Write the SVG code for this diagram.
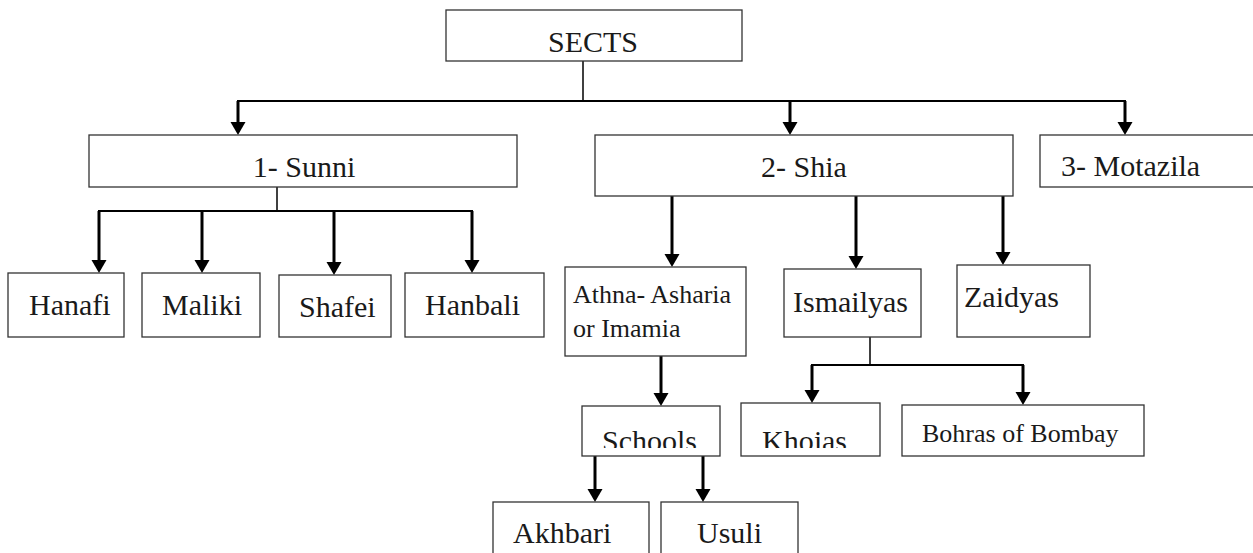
<svg xmlns="http://www.w3.org/2000/svg" width="1253" height="553" viewBox="0 0 1253 553">
<style>
.box{fill:#fff;stroke:#333;stroke-width:1.3}
.t{font-family:"Liberation Serif","DejaVu Serif",serif;font-size:30px;fill:#1a1a1a}
.s{font-size:26px}
.c{text-anchor:middle}
.ln{stroke:#000;stroke-width:2;fill:none}
.thin{stroke:#000;stroke-width:1.5;fill:none}
.ar{stroke:#000;stroke-width:3;fill:none;marker-end:url(#ah)}
</style>
<defs>
<marker id="ah" markerUnits="userSpaceOnUse" markerWidth="16" markerHeight="16" refX="3" refY="7.5" orient="auto">
<path d="M0,0 L13,7.5 L0,15 z" fill="#000"/>
</marker>
<clipPath id="cut"><rect x="0" y="0" width="1253" height="448"/></clipPath>
</defs>
<rect width="1253" height="553" fill="#fff"/>
<g id="connectors">
<line class="thin" x1="583" y1="61" x2="583" y2="101"/>
<line class="ln" x1="237" y1="101" x2="1126" y2="101"/>
<line class="ar" x1="238" y1="101" x2="238" y2="125"/>
<line class="ar" x1="790" y1="101" x2="790" y2="125"/>
<line class="ar" x1="1125" y1="101" x2="1125" y2="125"/>
<line class="thin" x1="277" y1="187" x2="277" y2="211"/>
<line class="ln" x1="98" y1="211" x2="473" y2="211"/>
<line class="ar" x1="99" y1="211" x2="99" y2="263"/>
<line class="ar" x1="202" y1="211" x2="202" y2="263"/>
<line class="ar" x1="334" y1="211" x2="334" y2="265"/>
<line class="ar" x1="472" y1="211" x2="472" y2="263"/>
<line class="ar" x1="672" y1="196" x2="672" y2="257"/>
<line class="ar" x1="856" y1="196" x2="856" y2="259"/>
<line class="ar" x1="1003" y1="196" x2="1003" y2="255"/>
<line class="ar" x1="661" y1="356" x2="661" y2="396"/>
<line class="thin" x1="870" y1="329" x2="870" y2="365"/>
<line class="ln" x1="811" y1="365" x2="1024" y2="365"/>
<line class="ar" x1="812" y1="365" x2="812" y2="393"/>
<line class="ar" x1="1023" y1="365" x2="1023" y2="395"/>
<line class="ar" x1="595" y1="456" x2="595" y2="492"/>
<line class="ar" x1="703" y1="455" x2="703" y2="492"/>
</g>
<g id="sects"><rect class="box" x="446" y="10" width="296" height="51"/><text class="t c" x="593" y="52">SECTS</text></g>
<g id="sunni"><rect class="box" x="89" y="135" width="428" height="52"/><text class="t c" x="304" y="177">1- Sunni</text></g>
<g id="shia"><rect class="box" x="595" y="135" width="418" height="61"/><text class="t c" x="804" y="177">2- Shia</text></g>
<g id="motazila"><rect class="box" x="1040" y="135" width="220" height="52"/><text class="t" x="1061" y="176">3- Motazila</text></g>
<g id="hanafi"><rect class="box" x="8" y="273" width="116" height="64"/><text class="t" x="29" y="315">Hanafi</text></g>
<g id="maliki"><rect class="box" x="142" y="273" width="118" height="64"/><text class="t" x="162" y="315">Maliki</text></g>
<g id="shafei"><rect class="box" x="279" y="275" width="112" height="62"/><text class="t" x="299" y="317">Shafei</text></g>
<g id="hanbali"><rect class="box" x="405" y="273" width="139" height="64"/><text class="t" x="425" y="315">Hanbali</text></g>
<g id="athna"><rect class="box" x="565" y="267" width="181" height="89"/><text class="t s" x="573" y="303">Athna- Asharia</text><text class="t s" x="573" y="337">or Imamia</text></g>
<g id="ismailyas"><rect class="box" x="784" y="269" width="137" height="68"/><text class="t" x="793" y="312">Ismailyas</text></g>
<g id="zaidyas"><rect class="box" x="957" y="265" width="133" height="72"/><text class="t" x="964" y="307">Zaidyas</text></g>
<g id="schools"><rect class="box" x="582" y="406" width="138" height="50"/><text class="t" x="602" y="451" clip-path="url(#cut)">Schools</text></g>
<g id="khojas"><rect class="box" x="741" y="403" width="139" height="53"/><text class="t" x="762" y="451" clip-path="url(#cut)">Khojas</text></g>
<g id="bohras"><rect class="box" x="902" y="405" width="242" height="51"/><text class="t s" x="922" y="442">Bohras of Bombay</text></g>
<g id="akhbari"><rect class="box" x="493" y="502" width="156" height="60"/><text class="t" x="513" y="543">Akhbari</text></g>
<g id="usuli"><rect class="box" x="661" y="502" width="137" height="60"/><text class="t" x="697" y="543">Usuli</text></g>
</svg>
